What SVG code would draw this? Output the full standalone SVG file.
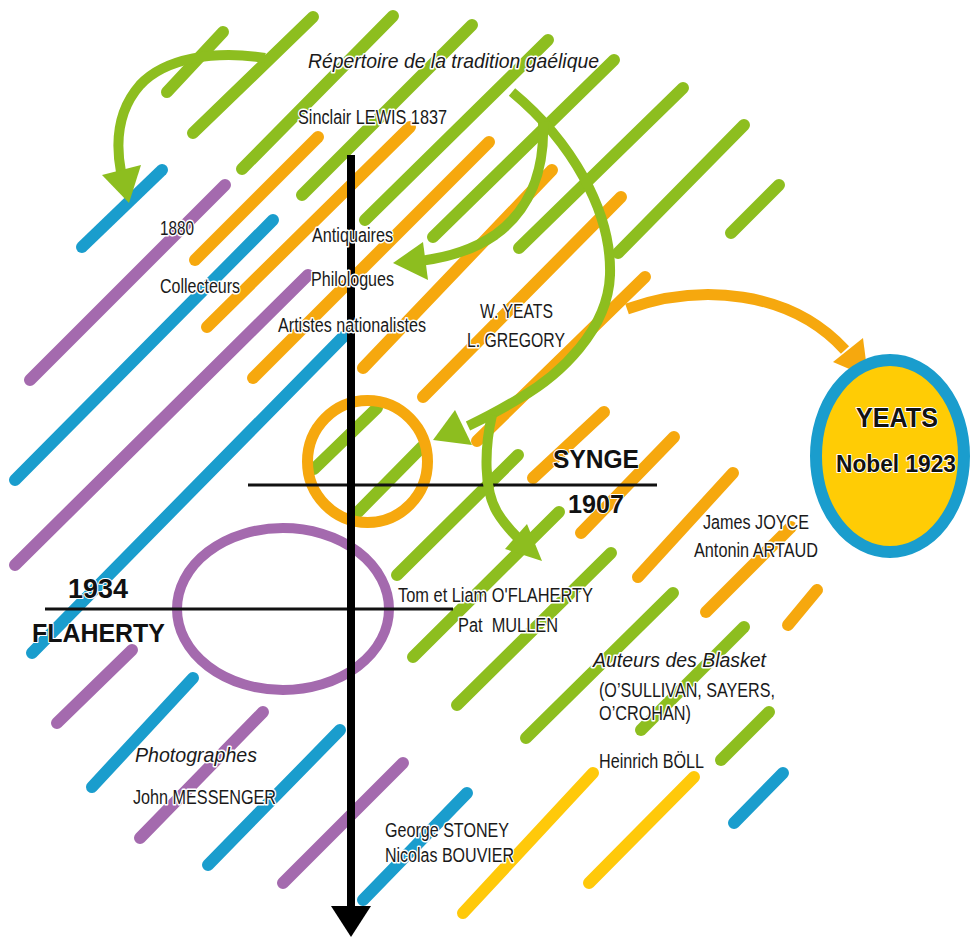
<svg xmlns="http://www.w3.org/2000/svg" width="972" height="937" viewBox="0 0 972 937">
<style>
.st{stroke-width:12;stroke-linecap:round;fill:none}
.g{stroke:#8DBE1F}.o{stroke:#F6A80E}.y{stroke:#FFC90A}.b{stroke:#1A9DCD}.p{stroke:#A46AAE}
.arr{fill:none;stroke:#8DBE1F;stroke-width:10;stroke-linecap:butt}
.ah{fill:#8DBE1F}
.oarr{fill:none;stroke:#F6A80E;stroke-width:11}
.oah{fill:#F6A80E}
.t{font-family:"Liberation Sans",Arial,sans-serif;font-size:20px;fill:#1a1a1a;stroke:#fff;stroke-width:3;paint-order:stroke;stroke-linejoin:round}
.i{font-style:italic}
.bt{font-family:"Liberation Sans",Arial,sans-serif;font-weight:bold;font-size:26px;fill:#111;stroke:#fff;stroke-width:2;paint-order:stroke;stroke-linejoin:round}
</style>
<rect width="972" height="937" fill="#fff"/>
<g id="stripes">
<g class="st g">
<line x1="167" y1="92" x2="223" y2="32"/>
<line x1="193" y1="133" x2="313" y2="17"/>
<line x1="242" y1="169" x2="393" y2="16"/>
<line x1="302" y1="195" x2="472" y2="25"/>
<line x1="365" y1="220" x2="548" y2="40"/>
<line x1="433" y1="237" x2="614" y2="60"/>
<line x1="519" y1="248" x2="683" y2="88"/>
<line x1="618" y1="253" x2="744" y2="125"/>
<line x1="731" y1="233" x2="779" y2="185"/>
<line x1="397" y1="575" x2="518" y2="455"/>
<line x1="413" y1="657" x2="559" y2="512"/>
<line x1="457" y1="705" x2="611" y2="553"/>
<line x1="526" y1="738" x2="673" y2="593"/>
<line x1="641" y1="730" x2="744" y2="627"/>
<line x1="721" y1="760" x2="769" y2="712"/>
<line x1="314" y1="469" x2="377" y2="408"/>
<line x1="358" y1="512" x2="422" y2="447"/>
</g>
<g class="st o">
<line x1="195" y1="260" x2="318" y2="137"/>
<line x1="207" y1="327" x2="410" y2="127"/>
<line x1="253" y1="378" x2="489" y2="142"/>
<line x1="363" y1="368" x2="552" y2="170"/>
<line x1="423" y1="397" x2="621" y2="197"/>
<line x1="477" y1="441" x2="645" y2="277"/>
<line x1="533" y1="478" x2="604" y2="412"/>
<line x1="581" y1="533" x2="674" y2="437"/>
<line x1="638" y1="577" x2="733" y2="473"/>
<line x1="706" y1="612" x2="791" y2="527"/>
<line x1="788" y1="625" x2="817" y2="590"/>
</g>
<g class="st y">
<line x1="589" y1="883" x2="694" y2="777"/>
<line x1="463" y1="913" x2="593" y2="773"/>
</g>
<g class="st b">
<line x1="82" y1="247" x2="162" y2="170"/>
<line x1="15" y1="480" x2="273" y2="220"/>
<line x1="32" y1="653" x2="343" y2="337"/>
<line x1="92" y1="787" x2="193" y2="678"/>
<line x1="208" y1="865" x2="340" y2="730"/>
<line x1="363" y1="900" x2="467" y2="793"/>
<line x1="734" y1="823" x2="783" y2="773"/>
</g>
<g class="st p">
<line x1="30" y1="380" x2="225" y2="185"/>
<line x1="15" y1="565" x2="308" y2="275"/>
<line x1="57" y1="723" x2="132" y2="650"/>
<line x1="140" y1="838" x2="263" y2="712"/>
<line x1="283" y1="883" x2="403" y2="763"/>
</g>
</g>
<g id="node-synge-circle">
<ellipse cx="367.5" cy="461.5" rx="60" ry="61" fill="none" stroke="#F6A80E" stroke-width="11"/>
</g>
<g id="node-flaherty-ellipse">
<ellipse cx="283" cy="609" rx="106" ry="81" fill="none" stroke="#A46AAE" stroke-width="10"/>
</g>
<g id="timeline">
<line x1="248" y1="485" x2="657" y2="485" stroke="#111" stroke-width="3"/>
<line x1="45" y1="609" x2="453" y2="609" stroke="#111" stroke-width="3"/>
<line x1="351" y1="155" x2="351" y2="910" stroke="#000" stroke-width="8"/>
<polygon points="331,906 371,906 351,937" fill="#000"/>
</g>
<g id="connectors">
<path class="arr" d="M265,58 C215,50 165,58 140,85 C118,110 115,140 121,172"/>
<polygon class="ah" points="102,175 141,165 129,203"/>
<path class="arr" d="M512,92 C570,140 612,210 610,275 C608,330 560,375 520,398 C500,410 485,418 468,426"/>
<polygon class="ah" points="433,440 455,410 472,445"/>
<path class="arr" d="M543,122 C545,170 530,210 495,235 C470,252 445,258 420,261"/>
<polygon class="ah" points="393,263 423,242 428,280"/>
<path class="arr" d="M492,415 C484,450 484,490 497,512 C503,522 510,530 518,538"/>
<polygon class="ah" points="527,524 505,549 542,561"/>
<path class="oarr" d="M627,309 C700,283 790,290 845,350"/>
<polygon class="oah" points="833,362 863,338 868,377"/>
</g>
<g id="node-yeats">
<ellipse cx="890" cy="456" rx="74" ry="96" fill="#FFCC05" stroke="#1A9DCD" stroke-width="12"/>
<text class="bt" x="856" y="427" style="font-size:28px" textLength="82" lengthAdjust="spacingAndGlyphs">YEATS</text>
<text class="bt" x="836" y="472" style="font-size:24px" textLength="120" lengthAdjust="spacingAndGlyphs">Nobel 1923</text>
</g>
<g id="labels">
<text class="t i" x="308" y="68" style="font-size:21px" textLength="291" lengthAdjust="spacingAndGlyphs">Répertoire de la tradition gaélique</text>
<text class="t" x="298" y="124" textLength="149" lengthAdjust="spacingAndGlyphs">Sinclair LEWIS 1837</text>
<text class="t" x="160" y="235" textLength="34" lengthAdjust="spacingAndGlyphs">1880</text>
<text class="t" x="312" y="242" textLength="81" lengthAdjust="spacingAndGlyphs">Antiquaires</text>
<text class="t" x="160" y="293" textLength="80" lengthAdjust="spacingAndGlyphs">Collecteurs</text>
<text class="t" x="311" y="286" textLength="83" lengthAdjust="spacingAndGlyphs">Philologues</text>
<text class="t" x="278" y="332" textLength="148" lengthAdjust="spacingAndGlyphs">Artistes nationalistes</text>
<text class="t" x="480" y="318" textLength="73" lengthAdjust="spacingAndGlyphs">W. YEATS</text>
<text class="t" x="467" y="347" textLength="98" lengthAdjust="spacingAndGlyphs">L. GREGORY</text>
<text class="t" x="703" y="529" textLength="106" lengthAdjust="spacingAndGlyphs">James JOYCE</text>
<text class="t" x="694" y="557" textLength="124" lengthAdjust="spacingAndGlyphs">Antonin ARTAUD</text>
<text class="t" x="398" y="602" textLength="195" lengthAdjust="spacingAndGlyphs">Tom et Liam O'FLAHERTY</text>
<text class="t" x="458" y="632" textLength="100" lengthAdjust="spacingAndGlyphs" xml:space="preserve">Pat  MULLEN</text>
<text class="t i" x="593" y="667" textLength="173" lengthAdjust="spacingAndGlyphs">Auteurs des Blasket</text>
<text class="t" x="599" y="697" textLength="176" lengthAdjust="spacingAndGlyphs">(O’SULLIVAN, SAYERS,</text>
<text class="t" x="599" y="720" textLength="92" lengthAdjust="spacingAndGlyphs">O’CROHAN)</text>
<text class="t" x="599" y="768" textLength="105" lengthAdjust="spacingAndGlyphs">Heinrich BÖLL</text>
<text class="t i" x="135" y="762" textLength="122" lengthAdjust="spacingAndGlyphs">Photographes</text>
<text class="t" x="133" y="804" textLength="143" lengthAdjust="spacingAndGlyphs">John MESSENGER</text>
<text class="t" x="385" y="837" textLength="124" lengthAdjust="spacingAndGlyphs">George STONEY</text>
<text class="t" x="385" y="862" textLength="129" lengthAdjust="spacingAndGlyphs">Nicolas BOUVIER</text>
<text class="bt" x="553" y="468" textLength="86" lengthAdjust="spacingAndGlyphs">SYNGE</text>
<text class="bt" x="568" y="513" textLength="56" lengthAdjust="spacingAndGlyphs">1907</text>
<text class="bt" x="68" y="598" style="font-size:27px" textLength="60" lengthAdjust="spacingAndGlyphs">1934</text>
<text class="bt" x="32" y="642" textLength="133" lengthAdjust="spacingAndGlyphs">FLAHERTY</text>
</g>
</svg>
